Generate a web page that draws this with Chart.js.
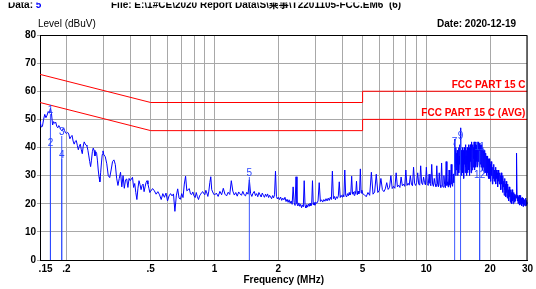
<!DOCTYPE html>
<html><head><meta charset="utf-8">
<script src="https://cdn.jsdelivr.net/npm/chart.js@4.4.1/dist/chart.umd.min.js"></script>
<style>html,body{margin:0;padding:0;background:#fff;overflow:hidden}canvas{display:block}</style>
</head><body>
<canvas id="c" width="536" height="289"></canvas>
<script>
// ---- Data ----
const headerDataLabel = "Data: ";
const headerDataNo = "5";
const headerFile = "File: E:\\1#CE\\2020 Report Data\\S\\乘事\\T2201105-FCC.EM6  (6)";
const yTitle = "Level (dBuV)";
const dateText = "Date: 2020-12-19";
const xTitle = "Frequency (MHz)";

const xTickValues = [0.15,0.2,0.3,0.4,0.5,0.6,0.7,0.8,0.9,1,2,3,4,5,6,7,8,9,10,20,30];
const xTickLabels = ["    .15",".2","","",".5","","","","","1","2","","","5","","","","","10","20","30"];

// limit lines (FCC Part 15 C, QP and AVG)
const limitNames = ["FCC PART 15 C", "FCC PART 15 C (AVG)"];
const limitFreqs = [0.15, 0.5, 5, 5, 30];
const limitQp  = [66, 56, 56, 60, 60];
const limitAvg = [56, 46, 46, 50, 50];

const segA = [49.5,47.3,47.5,50,51.8,50.6,51.5,52.8,52.2,54,52,48,49.2,48.6,49,47.5,47,47.8,47.2,46.4,46,46.5,47,46,45.2,45];
const segB = [45.4,44.8,43.1,43.8,44.3,42.3,41.2,42.2,42.5,40.8,39.2,40.5,41.2,39.2,37.8,40.5,42,41.3,40.8,40.5,39,37,35,33.2,35.5,38.5,39.8,39,37,38.5,38,35.5,32,29.5,27.8,31,34.5,37.5,38.8,37.5];
const segC = [36.7,34.2,30,29.3,32,35,35.6,34,29.1,26.5, 29,31.2,26,30,25.5,28.5,28.8,25.8,29,28.2, 28.8,29.4,25.8,27.2,24,21.5,25.5,28.2,26.8,25, 26.5,27,24.3,26,27.5,28.2,27,25.5,24,24.5];
const segD = [25.4,24.6,23.4,24.3,23.2,21.5,23.6,22.3,23.8,21, 22.8,23.6,22.8,23.5,17.3,22.8,25.3,22,21.6,23.6, 22.2,27,29.8,24.6,25,25.4,23.5,23.3,24.2,22.8, 22.2,24,22.5,21.5,22.8,23.4,24,24.3,23.6,23.2, 24.8,23.8,22.6,24.5,27.5,29.6,25,24.2,23.5,23.1];
const segE1 = [23.8,22.6,24.4,23.2,25.5,23.4,22.8,24.1,23.3,28.2, 24.5,23.1,24,22.7,24.2,23.5,23,24.4,23.2,22.8, 24.1,23.4,28.5,23.6,22.6,23.8,24.4,22.9,23.6,22.5, 24,23.2,22.4,23.8,23,22.3,23.4,22.6,23.5,22.2, 23,22.4,21.8,22.9,22.1,23.2,31.6,22.6,21.7,22.3];
const segE2 = [21.5,22.4,21.2,22,21.4,22.3,20.8,21.6,20.5,21.4, 20.2,21,19.8,26,20.5,19.4,29.6,20,19.2,20.3, 19.1,19.8,18.6,19.6,18.9,28.2,19.3,18.5,19.7,18.8, 19.9,19.1,20.2,19.3,20,28.2,19.6,20.4,19.5,20.5];
const segE3 = [20.2,21,27.5,20.8,21.4,20.6,21.5,20.9,21.8,21, 22,21.2,22.3,21.5,31.6,21.8,22.6,21.4,22.5,21.9, 22.8,27.8,22.2,23,22.4,23.2,22.5,32,23,22.4, 23.6,22.8,24,23.1,23.8,29.8,23.4,24.2,23,24.4, 23.6,28,23.2,24.5,23.5,24.6,32.4,23.8,24.8,23.6];
const segF = [23.2,22.5,24,23,31.2,23.4,24.2,30.5,24,24.8, 29,25,24.3,25.3,27.5,25.1,25.8,30,25.4,26.2, 25.5,31,26,26.6,25.8,29.5,26.4,27,26.2,32, 26.5,27.3,26.6,30,27,26.4,33,27.2,26.5,27.6, 31,27,26.6,33.5,27.4,26.8,29.5,27.5,26.7,33, 27.2,26.5,30.5,27.3,26.4,34,27,26.2,29,27, 26.1,33.5,26.8,26,31,26.7,25.8,34.5,26.6,25.9, 30,26.8,25.7,35,26.5,27.8,25.9,32,26.7,25.8, 34,27,26.2,30.5,27.5];
const segG = [31,43,33,39,30,40,32,38,34,39, 30,38,33,40,31,37,34,41,32,47, 33,39,30,38,35,40,31,39,33,37, 29,40,34,38,31,41,33,37,30,39, 34,40,31,38,35,41,32,39,30,40, 33,41,35,39,31,40,34,42,32,38, 35,41,33,40,36,42,32,39,34,41, 36,42,33,40,35,41,34,42,33,40, 35,41,36,42,34,41.5,33,40,35,41, 34,40,33,41,35,39,32,40,34,39, 33,39,34,38,31,39,33,37,32,38, 31,38,33,37,30,37,32,36,31,37, 30,36,31,35,29,36,30,35,29,34];
const segH = [28,35,30,34,27,33,29,34,28,32, 30,33,27,32,29,31,26,32,28,31, 27,31,29,30,25,31,27,29,24,30, 26,28,23,29,25,27,22.5,28,24,26, 22,27,23,25,21,26,22.5,24,20.5,25, 22,24,20,25,21,23,20,24,21.5,23, 20.5,23.5,21,23,22,24,38,23,21,22.5, 20,22.5,21,23,19.5,22,20.5,23,19.8,22, 20.8,19.2,22.2,20,21.5,19,22,20.3,19.5,21.5, 19.8,21,19.2,22,20,19.4,21.2,19.6,20.4,20];
const sweepStarts = [0.150, 0.2025, 0.305, 0.51, 1.02, 2.025, 3.04, 5.1, 13.55, 20.1];
const sweepSteps  = [0.002, 0.0025, 0.005, 0.01, 0.02, 0.025, 0.04, 0.1, 0.05, 0.1];
const sweepLevels = [segA, segB, segC, segD, segE1, segE2, segE3, segF, segG, segH];

// markers
const markerNames  = ["1","2","3","4","5","7","9","11","12"];
const markerFreqs  = [0.168,0.168,0.19,0.19,1.46,13.6,14.5,17.85,17.85];
const markerLevels = [51.9,40.2,44.1,35.9,29.5,40.5,42.7,38.8,28.8];

// ---- Build datasets ----
const traceData = [];
sweepLevels.forEach((lv, s) => lv.forEach((v, i) => traceData.push({x: +(sweepStarts[s] + i*sweepSteps[s]).toFixed(4), y: v})));
const markerData = [];
markerFreqs.forEach((f, i) => { markerData.push({x:f, y:0}, {x:f, y:markerLevels[i]}, {x:f, y:null}); });
const qpData = limitFreqs.map((f,i)=>({x:f, y:limitQp[i]}));
const avgData = limitFreqs.map((f,i)=>({x:f, y:limitAvg[i]}));

const FF = "'Liberation Sans', Arial, 'Noto Sans CJK SC', sans-serif";
Chart.defaults.font.family = FF;

const overlay = {
  id: 'overlay',
  afterDraw(chart) {
    const {ctx, chartArea: a, scales: {x, y}} = chart;
    ctx.save();
    ctx.strokeStyle = '#000'; ctx.lineWidth = 1;
    ctx.beginPath();
    ctx.moveTo(a.left, a.top + 0.5); ctx.lineTo(a.right - 0.5, a.top + 0.5); ctx.lineTo(a.right - 0.5, a.bottom);
    ctx.stroke();
    // limit labels
    ctx.font = "bold 10px " + FF; ctx.fillStyle = '#ff0000';
    ctx.textAlign = 'right'; ctx.textBaseline = 'alphabetic';
    ctx.fillText(limitNames[0], a.right - 2, y.getPixelForValue(limitQp[4]) - 3);
    ctx.fillText(limitNames[1], a.right - 2, y.getPixelForValue(limitAvg[4]) - 3);
    // marker labels
    ctx.font = "10px " + FF; ctx.fillStyle = '#2a45ff';
    ctx.textAlign = 'center'; ctx.textBaseline = 'bottom';
    markerNames.forEach((n, i) => ctx.fillText(n, x.getPixelForValue(markerFreqs[i]), y.getPixelForValue(markerLevels[i]) + 1));
    // other texts
    ctx.textBaseline = 'alphabetic';
    ctx.font = "bold 10px " + FF; ctx.fillStyle = '#000';
    ctx.textAlign = 'right'; ctx.fillText(dateText, 516, 27);
    ctx.textAlign = 'left'; ctx.font = "10px " + FF; ctx.fillText(yTitle, 38, 27);
    // header line (top of it is cut off in the original picture)
    ctx.save();
    ctx.beginPath(); ctx.rect(0, 2.5, 536, 12); ctx.clip();
    ctx.font = "bold 10px " + FF; ctx.fillStyle = '#000';
    ctx.fillText(headerDataLabel, 8, 8);
    const w = ctx.measureText(headerDataLabel).width;
    ctx.fillStyle = '#0000ff'; ctx.fillText(headerDataNo, 8 + w, 8);
    ctx.fillStyle = '#000'; ctx.fillText(headerFile, 111, 8);
    ctx.restore();
    ctx.restore();
  }
};

new Chart(document.getElementById('c'), {
  type: 'line',
  data: { datasets: [
    {data: qpData, borderColor: '#ff0000', borderWidth: 1, pointRadius: 0, tension: 0},
    {data: avgData, borderColor: '#ff0000', borderWidth: 1, pointRadius: 0, tension: 0},
    {data: markerData, borderColor: 'rgba(40,70,255,0.9)', borderWidth: 1, pointRadius: 0, tension: 0, spanGaps: false},
    {data: traceData, borderColor: '#0000ff', borderWidth: 1, pointRadius: 0, tension: 0}
  ]},
  options: {
    responsive: false, animation: false, devicePixelRatio: 1,
    layout: { padding: { top: 35, right: 8, left: 0, bottom: 0 } },
    plugins: { legend: {display: false}, tooltip: {enabled: false} },
    scales: {
      x: {
        type: 'logarithmic', min: 0.15, max: 30,
        afterBuildTicks: s => { s.ticks = xTickValues.map(v => ({value: v})); },
        afterFit: s => { s.height = 29; },
        ticks: { autoSkip: false, maxRotation: 0, minRotation: 0, padding: 3, color: '#000',
                 font: {size: 10, weight: 'bold'}, callback: (v, i) => xTickLabels[i] },
        grid: { drawTicks: false, color: c => (c.tick && c.tick.value === 0.15) ? 'rgba(0,0,0,0)' : '#a8a8a8' },
        border: { color: '#000' },
        title: { display: true, text: xTitle, color: '#000', font: {size: 10, weight: 'bold'}, padding: {top: 0, bottom: 3} }
      },
      y: {
        min: 0, max: 80,
        afterFit: s => { s.width = 40; },
        ticks: { stepSize: 10, padding: 1, color: '#000', font: {size: 10, weight: 'bold'} },
        grid: { color: '#a8a8a8', tickLength: 3 },
        border: { color: '#000' }
      }
    }
  },
  plugins: [overlay]
});
</script>
</body></html>
